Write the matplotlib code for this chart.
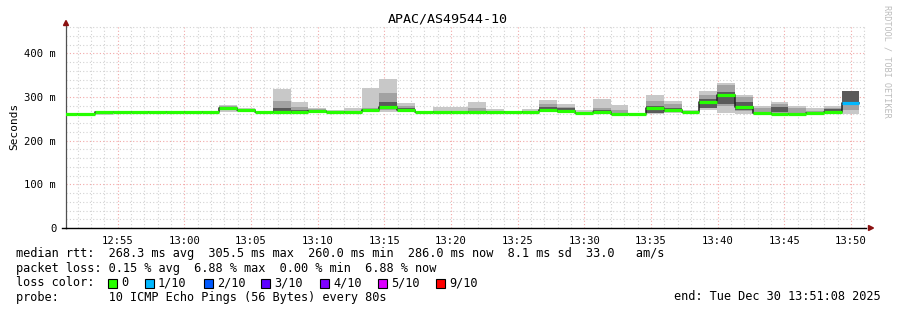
import numpy as np
import matplotlib
matplotlib.use('Agg')
import matplotlib.pyplot as plt
from matplotlib.patches import Rectangle, Polygon
from matplotlib.lines import Line2D

W, H = 897, 310
MONO = 'DejaVu Sans Mono'

# 80 s steps, times in minutes after 12:00
step = 80 / 60.0
t_first = 50.641
# per step: median rtt [ms], smoke bands [ms], lost pings out of 10
median = [260, 260, 265, 265, 265, 265, 265, 265, 265, 274, 270, 265,
          266, 265, 268, 265, 265, 270, 278, 271, 265, 265, 265, 265,
          265, 265, 265, 271, 269, 264, 265, 262, 261, 276, 271, 266,
          289, 305.5, 277, 263, 262, 262, 264, 265, 286]
rtt_min = [260, 260, 259, 265, 265, 265, 265, 265, 265, 266, 265, 264,
           263, 263, 265, 264, 264, 265, 266, 266, 264, 264, 264, 264,
           264, 264, 264, 265, 264, 263, 263, 261, 260, 262, 264, 264,
           270, 264, 262, 262, 261, 261, 262, 264, 262]
rtt_max = [260, 260, 266, 265, 265, 265, 265, 265, 265, 282, 276, 266,
           319, 289, 275, 271, 275, 321, 341, 287, 266, 277, 277, 289,
           272, 267, 272, 293, 283, 270, 295, 281, 262, 305, 290, 270,
           313, 333, 304, 279, 289, 280, 275, 279, 313]
q_lo = [260, 260, 262, 265, 265, 265, 265, 265, 265, 270, 267, 265,
        264, 264, 266, 265, 265, 266, 270, 267, 265, 265, 265, 265,
        265, 265, 265, 267, 266, 264, 265, 262, 261, 266, 266, 265,
        274, 280, 268, 262, 263, 262, 263, 265, 270]
q_hi = [260, 260, 265, 265, 265, 265, 265, 265, 265, 279, 273, 265,
        291, 278, 273, 268, 268, 275, 309, 280, 265, 268, 268, 276,
        268, 265, 268, 283, 277, 266, 275, 270, 261, 292, 283, 268,
        304, 327, 300, 274, 283, 274, 268, 275, 313]
d_lo = [260, 260, 265, 265, 265, 265, 265, 265, 265, 275, 269, 265,
        265, 265, 267, 265, 265, 267, 272, 268, 265, 265, 265, 265,
        265, 265, 265, 268, 266, 264, 266, 262, 261, 264, 265, 265,
        276, 283, 270, 263, 265, 262, 264, 266, 288]
d_hi = [260, 260, 265, 265, 265, 265, 265, 265, 265, 278, 272, 265,
        276, 270, 271, 266, 265, 271, 289, 275, 265, 265, 265, 265,
        265, 265, 265, 277, 274, 264, 271, 262, 261, 280, 276, 268,
        296, 312, 289, 263, 277, 262, 264, 272, 313]
loss = [0] * 44 + [1]

loss_levels = ['0', '1/10', '2/10', '3/10', '4/10', '5/10', '9/10']
loss_colors = ['#26ff00', '#00b8ff', '#0059ff', '#5e00ff', '#7e00ff',
               '#dd00ff', '#ff0000']
loss_index = {0: 0, 1: 1, 2: 2, 3: 3, 4: 4, 5: 5, 9: 6}

title = 'APAC/AS49544-10'
stats = [
    'median rtt:  268.3 ms avg  305.5 ms max  260.0 ms min  286.0 ms now  8.1 ms sd  33.0   am/s',
    'packet loss: 0.15 % avg  6.88 % max  0.00 % min  6.88 % now',
]
probe = 'probe:       10 ICMP Echo Pings (56 Bytes) every 80s'
end_txt = 'end: Tue Dec 30 13:51:08 2025'

x0, x1 = 51.133, 111.133
y0, y1 = 0, 465

t = t_first + step * np.arange(len(median))
med = np.array(median, dtype=float)


def fx(px):
    return px / W


def fy(py):
    return 1 - py / H


fig = plt.figure(figsize=(W / 100, H / 100), dpi=100)
ax = fig.add_axes([fx(66), fy(228), 800 / W, 203 / H])
ax.set_xlim(x0, x1)
ax.set_ylim(y0, y1)

# grid
dot = (0, (1, 2))
for m in range(52, 112):
    c = '#f2a8a8' if m % 5 == 0 else '#d2d2d2'
    ax.axvline(m, color=c, lw=0.8, ls=dot, zorder=0)
for v in range(20, 465, 20):
    c = '#f2a8a8' if v % 100 == 0 else '#d2d2d2'
    ax.axhline(v, color=c, lw=0.8, ls=dot, zorder=0)

# smoke
lo, hi = np.array(rtt_min), np.array(rtt_max)
ax.bar(t, hi - lo, bottom=lo, width=step, align='edge', color='#c8c8c8', lw=0, zorder=2)
lo, hi = np.array(q_lo), np.array(q_hi)
ax.bar(t, hi - lo, bottom=lo, width=step, align='edge', color='#a2a2a2', lw=0, zorder=3)
lo, hi = np.array(d_lo), np.array(d_hi)
ax.bar(t, hi - lo, bottom=lo, width=step, align='edge', color='#5a5a5a', lw=0, zorder=4)

# median
edges = np.append(t, t[-1] + step)
ax.step(edges, np.append(med, med[-1]), where='post', color='#202020', lw=1.1, zorder=5)
cols = [loss_colors[loss_index[l]] for l in loss]
ax.hlines(med, t, t + step, colors=cols, lw=2.3, zorder=6)

# axes
for s in ['top', 'right']:
    ax.spines[s].set_visible(False)
ax.spines['left'].set_color('#505050')
ax.spines['left'].set_linewidth(0.9)
ax.spines['bottom'].set_color('black')
ax.spines['bottom'].set_linewidth(1.0)
ax.spines['bottom'].set_zorder(7)
fig.add_artist(Line2D([fx(62), fx(66)], [fy(228), fy(228)], color='black', lw=1.0,
                      transform=fig.transFigure))

xt = list(range(55, 111, 5))
ax.set_xticks(xt)
ax.set_xticklabels(['%02d:%02d' % (12 + m // 60, m % 60) for m in xt])
yt = [0, 100, 200, 300, 400]
ax.set_yticks(yt)
ax.set_yticklabels(['0' if v == 0 else '%d m' % v for v in yt])
ax.tick_params(axis='both', labelsize=7.6, length=0, pad=6)
for lab in ax.get_xticklabels() + ax.get_yticklabels():
    lab.set_family(MONO)
ax.tick_params(axis='y', pad=7)
ax.set_ylabel('Seconds', family=MONO, fontsize=8, labelpad=4)

# axis arrows
fig.add_artist(Polygon([[fx(63.5), fy(25.5)], [fx(68.5), fy(25.5)], [fx(66), fy(20.5)]],
                       closed=True, color='#8b1010', transform=fig.transFigure))
fig.add_artist(Polygon([[fx(868.5), fy(225.5)], [fx(868.5), fy(230.5)], [fx(873.5), fy(228)]],
                       closed=True, color='#8b1010', transform=fig.transFigure))

fig.text(fx(448), fy(19), title, family=MONO, fontsize=9.6, ha='center', va='center')
fig.text(fx(887), fy(5), 'RRDTOOL / TOBI OETIKER', family=MONO, fontsize=6.1,
         color='#bcbcbc', rotation=270, ha='center', va='top')

# legend
fs = 8.55
fig.text(fx(16), fy(254), stats[0], family=MONO, fontsize=fs, va='center')
fig.text(fx(16), fy(268.5), stats[1], family=MONO, fontsize=fs, va='center')
fig.text(fx(16), fy(283), 'loss color:', family=MONO, fontsize=fs, va='center')
box_x = [108, 145, 204, 261, 320, 378, 436]
for bx, name, c in zip(box_x, loss_levels, loss_colors):
    fig.add_artist(Rectangle((fx(bx), fy(287.5)), 8.5 / W, 8.5 / H, transform=fig.transFigure,
                             facecolor=c, edgecolor='black', lw=0.8))
    fig.text(fx(bx + 13), fy(283), name, family=MONO, fontsize=fs, va='center')
fig.text(fx(16), fy(297), probe, family=MONO, fontsize=fs, va='center')
fig.text(fx(881), fy(297), end_txt, family=MONO, fontsize=fs, va='center', ha='right')

fig.savefig('out.png', dpi=100)
